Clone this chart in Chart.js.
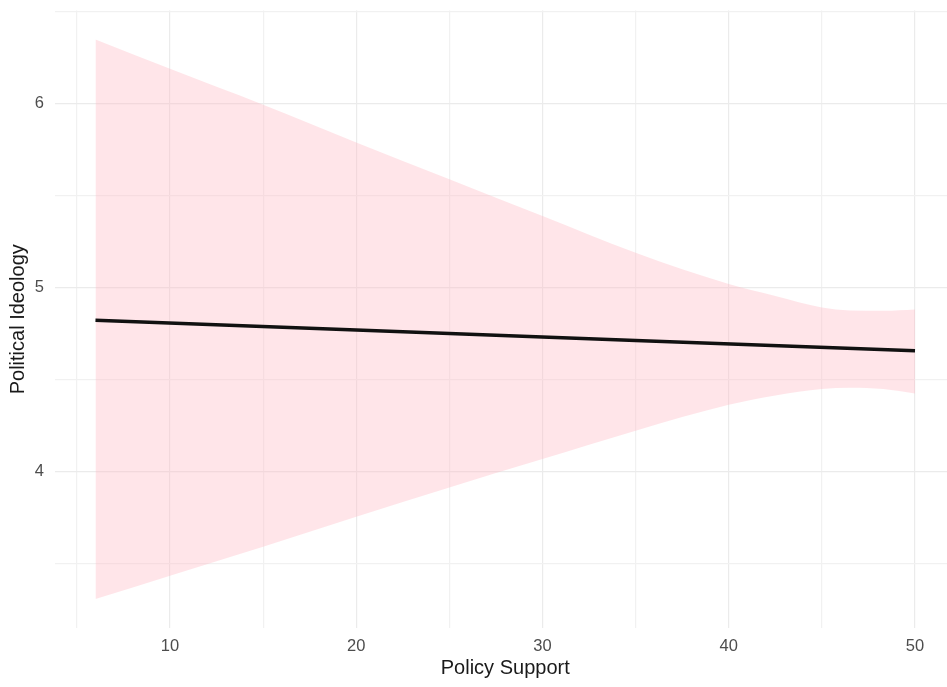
<!DOCTYPE html>
<html>
<head>
<meta charset="utf-8">
<script src="https://cdn.jsdelivr.net/npm/chart.js@4/dist/chart.umd.min.js"></script>
<style>
  html, body { margin: 0; padding: 0; background: #ffffff; overflow: hidden; }
  #wrap { width: 947px; height: 687px; overflow: hidden; }
  canvas { display: block; }
</style>
</head>
<body>
<div id="wrap"><canvas id="chart" width="960" height="687"></canvas></div>
<script>
// Fitted line: Political Ideology vs Policy Support
const fitX = [6, 20, 35, 50];
const fitY = [4.824, 4.771, 4.714, 4.658];

// Confidence band around the fit
const bandX     = [6, 10, 15, 20, 25, 30, 35, 40, 42.5, 45, 46.5, 48.3, 50];
const bandUpper = [6.35, 6.19, 5.995, 5.79, 5.59, 5.39, 5.19, 5.02, 4.955, 4.893, 4.877, 4.875, 4.882];
const bandLower = [3.308, 3.435, 3.592, 3.755, 3.915, 4.069, 4.223, 4.364, 4.415, 4.45, 4.457, 4.45, 4.426];

// Grid breaks (major ones carry labels)
const xBreaks = [5, 10, 15, 20, 25, 30, 35, 40, 45, 50];
const xLabels = [10, 20, 30, 40, 50];
const yBreaks = [3.5, 4, 4.5, 5, 5.5, 6, 6.5];
const yLabels = [4, 5, 6];

const toPoints = (xs, ys) => xs.map((x, i) => ({ x: x, y: ys[i] }));

const tickFont = { family: "'Liberation Sans', Arial, sans-serif", size: 16.5, lineHeight: 1.2 };
const titleFont = { family: "'Liberation Sans', Arial, sans-serif", size: 20, lineHeight: 1.2 };

new Chart(document.getElementById('chart'), {
  type: 'line',
  data: {
    datasets: [
      {
        label: 'Fit',
        data: toPoints(fitX, fitY),
        borderColor: '#111111',
        borderWidth: 3.5,
        pointRadius: 0,
        fill: false
      },
      {
        label: 'Upper',
        data: toPoints(bandX, bandUpper),
        borderWidth: 0,
        borderColor: 'rgba(0,0,0,0)',
        backgroundColor: 'rgba(255,182,193,0.36)',
        pointRadius: 0,
        cubicInterpolationMode: 'monotone',
        fill: '+1'
      },
      {
        label: 'Lower',
        data: toPoints(bandX, bandLower),
        borderWidth: 0,
        borderColor: 'rgba(0,0,0,0)',
        pointRadius: 0,
        cubicInterpolationMode: 'monotone',
        fill: false
      }
    ]
  },
  options: {
    responsive: false,
    animation: false,
    devicePixelRatio: 1,
    layout: { padding: { top: 10.5, right: 4, left: 0, bottom: 0 } },
    plugins: { legend: { display: false }, tooltip: { enabled: false } },
    scales: {
      x: {
        type: 'linear',
        min: 3.8,
        max: 52.2,
        border: { display: false },
        grid: {
          drawTicks: false,
          tickLength: 0,
          lineWidth: 1.2,
          color: (ctx) => xLabels.includes(ctx.tick && ctx.tick.value) ? '#ebebeb' : '#f1f1f1'
        },
        afterBuildTicks: (scale) => { scale.ticks = xBreaks.map(v => ({ value: v })); },
        afterFit: (scale) => {
          scale.height = 59;
          scale.paddingLeft = 0;
          scale.paddingRight = 0;
        },
        ticks: {
          padding: 8.6,
          color: '#4d4d4d',
          font: tickFont,
          maxRotation: 0,
          autoSkip: false,
          callback: (v) => xLabels.includes(v) ? String(v) : ''
        },
        title: {
          display: true,
          text: 'Policy Support',
          color: '#1a1a1a',
          font: titleFont,
          padding: { top: 0, bottom: 7 }
        }
      },
      y: {
        type: 'linear',
        min: 3.151,
        max: 6.507,
        border: { display: false },
        grid: {
          drawTicks: false,
          tickLength: 0,
          lineWidth: 1.2,
          color: (ctx) => yLabels.includes(ctx.tick && ctx.tick.value) ? '#ebebeb' : '#f1f1f1'
        },
        afterBuildTicks: (scale) => { scale.ticks = yBreaks.map(v => ({ value: v })); },
        afterFit: (scale) => {
          scale.width = 54.5;
          scale.paddingTop = 0;
          scale.paddingBottom = 0;
        },
        ticks: {
          padding: 10.5,
          color: '#4d4d4d',
          font: tickFont,
          autoSkip: false,
          callback: (v) => yLabels.includes(v) ? String(v) : ''
        },
        title: {
          display: true,
          text: 'Political Ideology',
          color: '#1a1a1a',
          font: titleFont,
          padding: { top: 6, bottom: 0 }
        }
      }
    }
  }
});
</script>
</body>
</html>
